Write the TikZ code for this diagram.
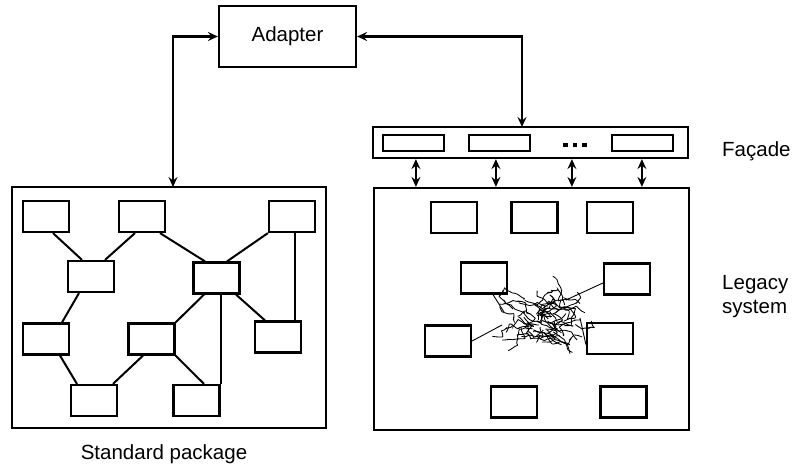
\documentclass[tikz,border=0pt]{standalone}
\usepackage{fontspec}
\setmainfont{Liberation Sans}
\usetikzlibrary{arrows.meta,decorations.pathmorphing}

\tikzset{
  unit/.style={draw, line width=2.2pt, minimum width=46pt, minimum height=31pt, inner sep=0pt},
  slot/.style={draw, line width=2pt, minimum width=61pt, minimum height=16pt, inner sep=0pt},
  frame/.style={draw, line width=2.2pt},
  link/.style={line width=2pt},
  thin link/.style={line width=0.9pt},
  arr/.style={line width=2.2pt, {Stealth[length=10pt,width=9pt,inset=3.5pt]}-{Stealth[length=10pt,width=9pt,inset=3.5pt]}},
  label/.style={font=\fontsize{20.5}{24}\selectfont, inner sep=0pt},
  tangle/.style={line width=0.85pt, rounded corners=1.5pt, decorate,
    decoration={random steps, segment length=3.2pt, amplitude=1.3pt}}
}

\begin{document}
\begin{tikzpicture}[x=1pt, y=-1pt]
\useasboundingbox (0,0) rectangle (793,465);

% adapter
\node[unit, minimum width=137pt, minimum height=61pt, label] (adapter) at (287.5,36.5) {Adapter};

% standard package frame and its components
\draw[frame] (12,187) rectangle (326,428);
\node[unit] (a) at (46,216.5) {};
\node[unit] (b) at (142,216.5) {};
\node[unit] (c) at (292,216.5) {};
\node[unit] (d) at (91,276.5) {};
\node[unit] (e) at (216.5,278) {};
\node[unit] (f) at (46,339) {};
\node[unit] (g) at (151.5,339) {};
\node[unit] (h) at (278,337) {};
\node[unit] (i) at (94,400.5) {};
\node[unit] (j) at (196.5,400.5) {};

\draw[link] ([xshift=7pt]a.south) -- ([xshift=-9pt]d.north);
\draw[link] ([xshift=-7pt]b.south) -- ([xshift=14pt]d.north);
\draw[link] ([xshift=18pt]b.south) -- ([xshift=-11.5pt]e.north);
\draw[link] (c.south west) -- ([xshift=10.5pt]e.north);
\draw[link] ([xshift=3pt]c.south) -- ([xshift=3pt]c.south |- h.north);
\draw[link] ([xshift=-12pt]d.south) -- ([xshift=16pt]f.north);
\draw[link] ([xshift=-12.5pt]e.south) -- (g.north east);
\draw[link] (e.south -| j.north east) -- (j.north east);
\draw[link] ([xshift=19.5pt]e.south) -- ([xshift=-13pt]h.north);
\draw[link] ([xshift=14pt]f.south) -- ([xshift=-17pt]i.north);
\draw[link] ([xshift=-8.5pt]g.south) -- ([xshift=19pt]i.north);
\draw[link] (g.south east) -- ([xshift=7.5pt]j.north);

\node[label, anchor=base] (stdlabel) at (164,459) {Standard package};

% facade strip
\node[frame, minimum width=315pt, minimum height=31pt, inner sep=0pt] (facade) at (530.5,142.5) {};
\node[slot] (s1) at (413.5,143) {};
\node[slot] (s2) at (499,143) {};
\node[slot] (s3) at (642.5,143) {};
\node[inner sep=0pt] (dots) at (575,145) {\rule{4.5pt}{4.5pt}\hspace{5pt}\rule{4.5pt}{4.5pt}\hspace{5pt}\rule{4.5pt}{4.5pt}};
\node[label, anchor=base west] (facadelabel) at (722,157) {Façade};

% legacy system frame and its components
\node[frame, minimum width=315pt, minimum height=242pt, inner sep=0pt] (legacy) at (531.5,309) {};
\node[unit] (u1) at (454,217.5) {};
\node[unit] (u2) at (534.5,217.5) {};
\node[unit] (u3) at (610,217.5) {};
\node[unit] (k) at (484,278) {};
\node[unit] (l) at (627,279) {};
\node[unit] (m) at (448,341) {};
\node[unit] (n) at (610,338.5) {};
\node[unit] (o) at (514,402) {};
\node[unit] (p) at (623.5,402) {};

\node[label, anchor=west, align=left] (legacylabel) at (722,297) {Legacy\\system};

% tangled web of dependencies
\coordinate (knot) at (543,320);
\draw[thin link] ([xshift=9pt]k.south) -- (504,312);
\draw[thin link] ([yshift=-4pt]l.west) -- (566,300);
\draw[thin link] (m.east) -- (502,325);
\draw[thin link] ([yshift=-6pt]n.west) -- (580,318);
\pgfmathsetseed{23}
\foreach \s in {1,...,55}{
  \pgfmathsetmacro\ang{rnd*360}
  \pgfmathsetmacro\rr{0.8*sqrt(rnd)}
  \pgfmathsetmacro\ax{543+42*\rr*cos(\ang)}
  \pgfmathsetmacro\ay{320+32*\rr*sin(\ang)}
  \pgfmathsetmacro\da{rnd*360}
  \pgfmathsetmacro\la{8+rnd*8}
  \pgfmathsetmacro\bx{\ax+\la*cos(\da)}
  \pgfmathsetmacro\by{\ay+0.8*\la*sin(\da)}
  \pgfmathsetmacro\db{\da+rand*110}
  \pgfmathsetmacro\lb{7+rnd*7}
  \pgfmathsetmacro\cx{\bx+\lb*cos(\db)}
  \pgfmathsetmacro\cy{\by+0.8*\lb*sin(\db)}
  \pgfmathsetmacro\dc{\db+rand*110}
  \pgfmathsetmacro\lc{6+rnd*6}
  \pgfmathsetmacro\ex{\cx+\lc*cos(\dc)}
  \pgfmathsetmacro\ey{\cy+0.8*\lc*sin(\dc)}
  \draw[tangle] (\ax,\ay) -- (\bx,\by);
  \draw[tangle] (\bx,\by) -- (\cx,\cy);
  \draw[tangle] (\cx,\cy) -- (\ex,\ey);
}

% connectors
\coordinate (stdtop) at (173,187);
\coordinate (factop) at (522,127);
\draw[arr] (adapter.west) -| (stdtop);
\draw[arr] (adapter.east) -| (factop);
\foreach \dx in {44,124,200,270}{
  \draw[arr] ([xshift=\dx pt]facade.south west) -- ([xshift=\dx pt]facade.south west |- legacy.north);
}
\end{tikzpicture}
\end{document}
